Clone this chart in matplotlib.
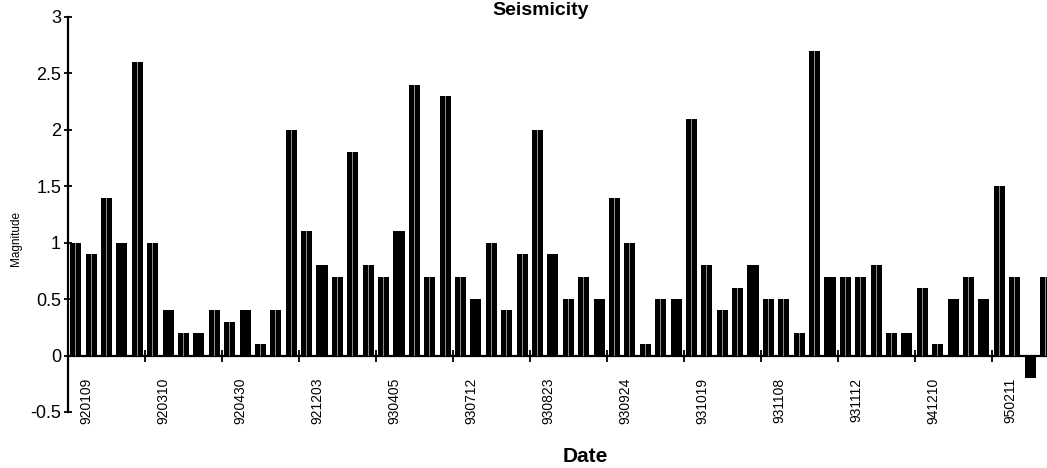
import matplotlib.pyplot as plt
import numpy as np

plt.rcParams["font.family"] = ["Liberation Sans", "DejaVu Sans"]

# magnitudes, 5 events per labelled date group
magnitudes = [
    1.0, 0.9, 1.4, 1.0, 2.6,
    1.0, 0.4, 0.2, 0.2, 0.4,
    0.3, 0.4, 0.1, 0.4, 2.0,
    1.1, 0.8, 0.7, 1.8, 0.8,
    0.7, 1.1, 2.4, 0.7, 2.3,
    0.7, 0.5, 1.0, 0.4, 0.9,
    2.0, 0.9, 0.5, 0.7, 0.5,
    1.4, 1.0, 0.1, 0.5, 0.5,
    2.1, 0.8, 0.4, 0.6, 0.8,
    0.5, 0.5, 0.2, 2.7, 0.7,
    0.7, 0.7, 0.8, 0.2, 0.2,
    0.6, 0.1, 0.5, 0.7, 0.5,
    1.5, 0.7, -0.2, 0.7,
]
date_labels = [
    "920109", "920310", "920430", "921203", "930405", "930712", "930823",
    "930924", "931019", "931108", "931112", "941210", "950211",
]
GROUP = 5

x = np.arange(len(magnitudes))

fig = plt.figure(figsize=(10.47, 4.68), dpi=100)
ax = fig.add_axes([0.065, 0.1197, 0.935, 0.844])

ax.bar(x, magnitudes, width=0.72, color="black", zorder=2)
# faint speckled core of each bar
ax.bar(x, magnitudes, width=0.05, color="#8a8a8a", zorder=3)

ax.set_xlim(-0.5, 63.1)
ax.set_ylim(-0.5, 3)

for side in ("top", "right"):
    ax.spines[side].set_visible(False)
ax.spines["bottom"].set_position(("data", 0))
ax.spines["bottom"].set_linewidth(1.6)
ax.spines["left"].set_linewidth(1.6)

ax.set_yticks([-0.5, 0, 0.5, 1, 1.5, 2, 2.5, 3])
ax.set_yticklabels(["-0.5", "0", "0.5", "1", "1.5", "2", "2.5", "3"])
ax.tick_params(axis="y", direction="inout", length=6, width=1.3,
               labelsize=13, pad=2)

label_pos = [GROUP * k + 0.7 for k in range(len(date_labels))]
ax.set_xticks(label_pos)
ax.set_xticklabels(date_labels, rotation=90, fontsize=10)
ax.tick_params(axis="x", which="major", length=0, pad=16)
ax.set_xticks([GROUP * k - 0.5 for k in range(1, len(date_labels))], minor=True)
ax.tick_params(axis="x", which="minor", direction="inout", length=9, width=1.3)
for lbl in ax.get_xticklabels():
    lbl.set_verticalalignment("top")

fig.text(0.0155, 0.49, "Magnitude", rotation=90, fontsize=8.5,
         ha="center", va="center")
fig.text(0.559, 0.013, "Date", fontsize=15, fontweight="bold",
         ha="center", va="baseline")
fig.text(0.516, 0.996, "Seismicity", fontsize=14, fontweight="bold",
         ha="center", va="top")

fig.savefig("out.png", dpi=100)
